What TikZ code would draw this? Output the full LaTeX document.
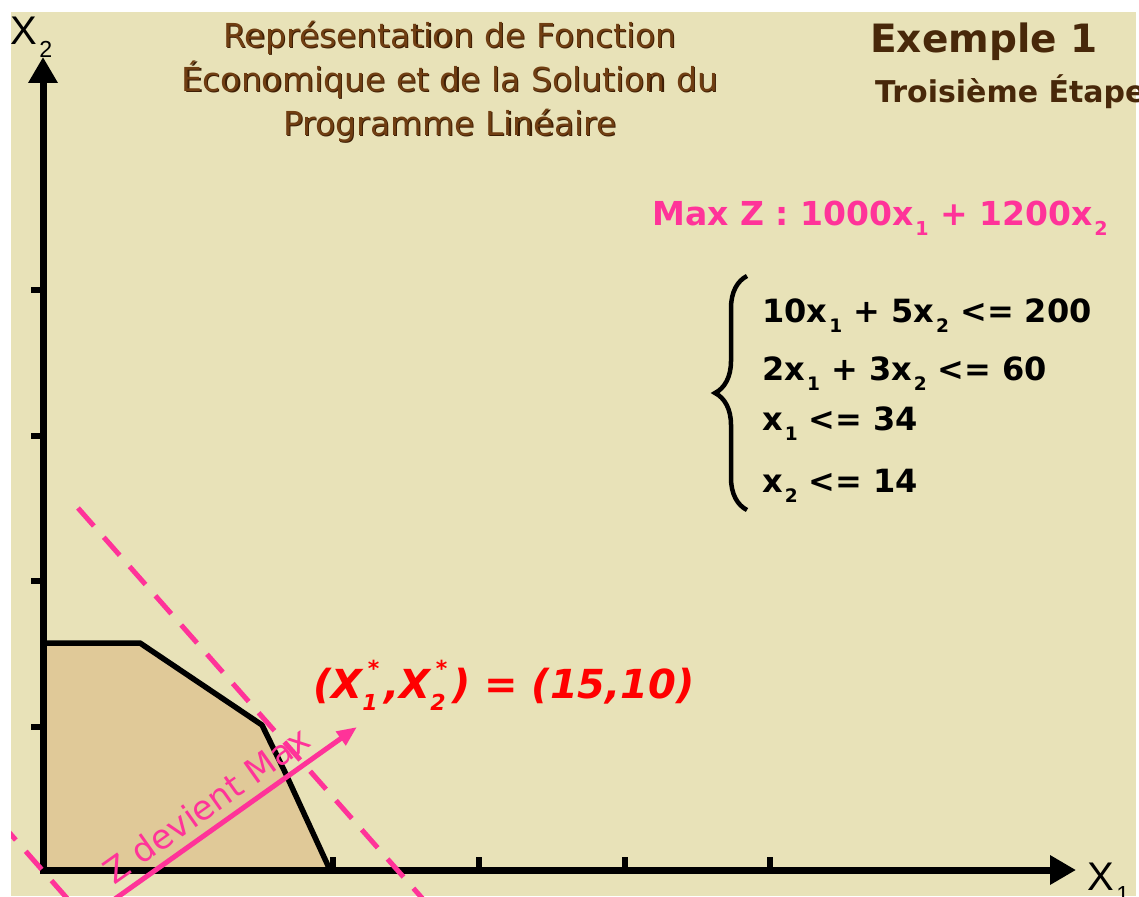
\documentclass[tikz,border=0pt]{standalone}
\usepackage{fontspec}
\setmainfont{DejaVu Sans}
\newfontfamily\axfont{Liberation Sans}
\usetikzlibrary{arrows.meta,decorations.pathreplacing}

\definecolor{bg}{RGB}{232,226,184}
\definecolor{feas}{RGB}{224,201,152}
\definecolor{zpink}{RGB}{255,51,153}
\definecolor{titlebrown}{RGB}{112,62,18}
\definecolor{shadowbrown}{RGB}{60,30,5}
\definecolor{darkbrown}{RGB}{72,40,10}

\newcommand\lsub[1]{\kern0.06em\raisebox{-0.32em}{\scalebox{0.58}{#1}}}
\newcommand\lsubsup[2]{\makebox[0pt][l]{\raisebox{-0.32em}{\scalebox{0.55}{#1}}}\kern0.14em\raisebox{0.55em}{\scalebox{0.55}{#2}}\kern0.12em}

\tikzset{
  axisline/.style={line width=7pt, -{Triangle[length=26pt,width=28pt]}},
  ticky/.style={line width=6pt},
  edge/.style={line width=5.5pt, line join=round},
  objline/.style={zpink, line width=5pt, dash pattern=on 24pt off 15pt},
  gradarrow/.style={zpink, line width=5pt, -{Triangle[length=20pt,width=16pt]}},
  txt/.style={inner sep=0pt, anchor=base west},
  titletxt/.style={align=center, font=\fontsize{33}{44}\selectfont},
}

\begin{document}
\begin{tikzpicture}[x=1pt,y=-1pt]
\useasboundingbox (0,0) rectangle (1139,896);
\fill[white] (0,0) rectangle (1139,896);
\fill[bg] (11,12) rectangle (1136,896);

% feasible region
\coordinate (O) at (43,870);
\coordinate (A) at (43,643);
\coordinate (B) at (140,643);
\coordinate (C) at (262,725);
\coordinate (D) at (284,770);
\coordinate (E) at (330,870);
\fill[feas] (O) -- (A) -- (B) -- (C) -- (D) -- (E) -- cycle;
\draw[edge] (A) -- (B) -- (C) -- (D) -- (E);

% axes
\coordinate (ytip) at (43,57);
\coordinate (xtip) at (1076,870);
\draw[axisline] (43,873) -- (ytip);
\draw[axisline] (40,870) -- (xtip);
\foreach \yy in {290,436,581,727} \draw[ticky] (31,\yy) -- (43,\yy);
\foreach \xx in {333,479,625,770} \draw[ticky] (\xx,857) -- (\xx,870);

% objective lines and gradient arrow
\begin{scope}
\clip (11,12) rectangle (1136,896);
\coordinate (L1a) at (78,508);
\coordinate (L1b) at (437,915);
\coordinate (L2a) at (0,822);
\coordinate (L2b) at (80,913);
\draw[objline] (L1a) -- (L1b);
\draw[objline] (L2a) -- (L2b);
\coordinate (G0) at (105,906);
\coordinate (G1) at (357,727);
\draw[gradarrow] (G0) -- (G1);
\end{scope}
\node[zpink, rotate=35.3, font=\fontsize{34}{36}\selectfont] (zmax) at (206,805) {Z devient Max};

% axis labels
\node[txt, font=\axfont\fontsize{40}{44}\selectfont] (x2lab) at (10,45) {X\lsub{2}};
\node[txt, font=\axfont\fontsize{40}{44}\selectfont] (x1lab) at (1087,890) {X\lsub{1}};

% titles
\node[titletxt, shadowbrown] (titleshadow) at (451.2,83.2)
  {Représentation de Fonction\\Économique et de la Solution du\\Programme Linéaire};
\node[titletxt, titlebrown] (title) at (450,82)
  {Représentation de Fonction\\Économique et de la Solution du\\Programme Linéaire};
\node[txt, darkbrown, font=\bfseries\fontsize{39}{44}\selectfont] (ex) at (870,53) {Exemple 1};
\node[txt, darkbrown, font=\bfseries\fontsize{30}{36}\selectfont] (step3) at (875,103) {Troisième Étape};

% objective function
\node[txt, zpink, font=\bfseries\fontsize{33}{36}\selectfont] (obj) at (652,225)
  {Max Z : 1000x\lsub{1} + 1200x\lsub{2}};

% constraints
\draw[line width=4.5pt, decorate, decoration={brace, amplitude=32pt, aspect=0.5}] (747,510) -- (747,276);
\begin{scope}[every node/.style={txt, font=\bfseries\fontsize{32}{36}\selectfont}]
\node (c1) at (762,322) {10x\lsub{1} + 5x\lsub{2} <= 200};
\node (c2) at (762,380) {2x\lsub{1} + 3x\lsub{2} <= 60};
\node (c3) at (762,430) {x\lsub{1} <= 34};
\node (c4) at (762,492) {x\lsub{2} <= 14};
\end{scope}

% optimum
\node[txt, red, font=\bfseries\itshape\fontsize{40}{44}\selectfont] (opt) at (313,698)
  {(X\lsubsup{1}{*},X\lsubsup{2}{*}) = (15,10)};
\end{tikzpicture}
\end{document}
